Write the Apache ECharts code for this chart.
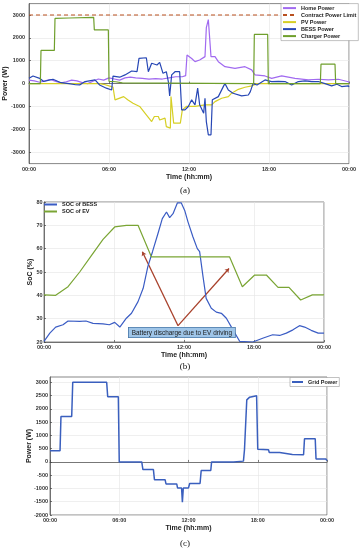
<!DOCTYPE html>
<html>
<head>
<meta charset="utf-8">
<script src="https://cdn.jsdelivr.net/npm/echarts@6/dist/echarts.min.js"></script>
<style>html,body{margin:0;padding:0;background:#fff}#c{width:359px;height:550px}</style>
</head>
<body>
<div id="c"></div>
<script>
// ---------- DATA ----------
const timeTicks = [0, 6, 12, 18, 24];
const powerTicksA = [-3000, -2000, -1000, 0, 1000, 2000, 3000];
const socTicks = [20, 30, 40, 50, 60, 70, 80];
const powerTicksC = [-2000, -1500, -1000, -500, 0, 500, 1000, 1500, 2000, 2500, 3000];

const homePower = [[0,150],[0.4,120],[0.8,60],[1.2,120],[1.6,180],[2,100],[2.4,30],[2.8,80],[3.2,150],[3.6,120],[4,40],[4.4,0],[4.8,100],[5.2,200],[5.6,150],[6,250],[6.4,200],[6.8,150],[7.2,250],[7.6,280],[8,250],[8.5,230],[9,200],[9.5,220],[10,200],[10.5,250],[11,300],[11.5,300],[11.75,350],[11.85,1250],[12.2,1100],[12.45,960],[12.8,1030],[13.2,1180],[13.3,2450],[13.45,2800],[13.6,2800],[13.65,1180],[13.95,1180],[14.2,960],[14.7,740],[15.45,670],[16.2,740],[16.7,600],[16.95,380],[17.7,335],[18.2,230],[18.95,335],[19.95,230],[20.95,160],[21.7,190],[22.45,160],[23.2,190],[23.95,80],[24,50]];
const contractLimit = [[0,3000],[24,3000]];
const pvPower = [[0,0],[5.3,0],[5.6,-30],[6,-100],[6.3,-150],[6.45,-710],[7.1,-570],[7.4,-710],[7.8,-860],[8.3,-1000],[8.8,-1370],[9.2,-1660],[9.4,-1440],[9.7,-1440],[9.8,-1590],[10.2,-1510],[10.3,-1880],[10.6,-1950],[10.65,-570],[10.85,-1730],[11.35,-1730],[11.5,-1150],[11.8,-1000],[12.45,-1000],[13.2,-930],[13.7,-930],[13.95,-790],[14.45,-640],[14.95,-570],[15.2,-420],[15.7,-250],[16.2,-160],[16.7,-100],[17.1,0],[24,0]];
const bessPower = [[0,230],[0.3,330],[0.8,230],[1.1,90],[1.5,150],[1.8,190],[2.4,40],[3,0],[3.5,-50],[3.8,-60],[4.2,90],[4.95,160],[5.3,-60],[5.8,-200],[6.2,-280],[6.3,330],[6.8,280],[7.2,380],[7.7,550],[8.1,520],[8.25,1100],[8.8,1130],[8.95,520],[9.2,890],[9.6,815],[9.8,930],[10.05,450],[10.3,520],[10.45,90],[10.55,-540],[10.7,380],[10.95,520],[11.3,520],[11.45,-1150],[11.7,-1150],[11.95,-1000],[12.2,-710],[12.45,-930],[12.65,-200],[12.8,-930],[13.1,-1300],[13.2,-640],[13.3,-1660],[13.45,-2240],[13.65,-2240],[13.75,-710],[14.2,-570],[14.6,-100],[14.7,0],[14.95,-280],[15.3,-420],[15.95,-540],[16.45,-500],[16.6,-350],[16.8,0],[17.1,-60],[17.7,160],[18.2,90],[18.7,100],[19.2,90],[19.7,-60],[20.2,90],[20.7,120],[21.2,90],[21.7,90],[22.2,0],[22.7,-100],[23.1,-30],[23.45,-130],[23.95,-100],[24,-150]];
const chargerPower = [[0,0],[0.85,0],[0.9,1450],[1.9,1450],[1.95,2850],[3,2870],[4.85,2900],[4.9,2350],[5.95,2350],[6.0,100],[6.5,80],[7,30],[16.85,0],[16.9,2150],[17.9,2150],[17.95,0],[21.85,0],[21.9,850],[22.95,850],[23.0,0],[24,0]];

const socBess = [[0,20.3],[0.5,23.8],[1,26.4],[1.63,27.4],[2.06,29],[3.06,28.8],[3.6,29],[4.2,28],[5.06,27.8],[5.6,27.4],[6.06,28.4],[6.5,26.4],[7.06,30.2],[7.5,32.3],[8.06,37.3],[8.5,43],[8.9,52.3],[9.3,58.7],[9.77,66.5],[10.14,72.9],[10.5,75.7],[10.77,73.3],[11.06,75],[11.43,79.6],[11.77,79.6],[12.06,76.4],[12.34,71.5],[12.77,65],[13.14,60],[13.34,58.7],[13.63,48],[13.9,38.7],[14.34,34.5],[14.77,32.8],[15.2,32.3],[15.63,30.2],[16.2,25.2],[16.77,20.3],[17.9,20],[18.8,21.7],[19.6,23.1],[20.2,22.8],[20.77,23.8],[21.34,25.2],[21.9,27],[22.34,26.4],[22.9,25],[23.5,23.8],[24,23.8]];
const socEv = [[0,40.2],[1,40],[2.06,43.7],[3.06,50],[4.06,57],[5.06,64],[6.06,69.3],[7.06,70],[8.06,70],[9.2,56.5],[15.9,56.5],[17,43.7],[18.06,48.7],[19.06,48.7],[20.06,43.4],[21,43.4],[22,38],[23,40.2],[24,40.2]];
const arrowStart = [11.49, 27];
const arrowEnds = [[8.43, 58.7], [15.86, 51.5]];
const annotationText = 'Battery discharge due to EV driving';

const gridPower = [[0,420],[0.87,420],[0.95,1710],[1.88,1710],[1.97,3000],[4.91,3000],[5.0,2460],[5.92,2460],[6.0,0],[7.95,0],[8.05,-290],[8.96,-290],[9.05,-670],[9.97,-670],[10.05,-830],[10.98,-830],[11.05,-980],[11.4,-980],[11.47,-1520],[11.55,-980],[12.0,-980],[12.1,-815],[13.0,-815],[13.1,-325],[13.93,-325],[14.0,0],[15.9,0],[16.76,30],[16.85,460],[17.05,2340],[17.3,2440],[17.9,2490],[18.0,480],[18.93,460],[19.0,355],[19.9,355],[20.0,290],[21.0,280],[21.97,270],[22.05,870],[22.98,870],[23.05,110],[23.9,110],[24,50]];

// ---------- CHART ----------
const FONT = 'Liberation Sans';
const chart = echarts.init(document.getElementById('c'), null, {renderer: 'canvas'});
const fmtTime = v => String(Math.round(v) % 24).padStart(2, '0') + ':00';

function xAxisDef(gi, gap, margin) {
  return {
    type: 'value', gridIndex: gi, min: 0, max: 24, interval: 6,
    name: 'Time (hh:mm)', nameLocation: 'middle', nameGap: gap,
    nameTextStyle: {fontFamily: FONT, fontSize: 7, fontWeight: 'bold', color: '#222'},
    axisLine: {show: true, lineStyle: {color: '#444', width: 0.7}},
    axisTick: {show: true, inside: true, length: 2, customValues: timeTicks, lineStyle: {color: '#444', width: 0.7}},
    axisLabel: {customValues: timeTicks, formatter: fmtTime, fontFamily: FONT, fontSize: 5.5, fontWeight: 'bold', color: '#333', margin: margin},
    splitLine: {show: true, lineStyle: {color: '#e4e4e4', width: 0.6}}
  };
}
function yAxisDef(gi, min, max, ticks, name, gap, margin) {
  return {
    type: 'value', gridIndex: gi, min: min, max: max,
    name: name, nameLocation: 'middle', nameGap: gap, nameMoveOverlap: false,
    nameTextStyle: {fontFamily: FONT, fontSize: 7, fontWeight: 'bold', color: '#222'},
    axisLine: {show: true, lineStyle: {color: '#444', width: 0.7}},
    axisTick: {show: true, inside: true, length: 2, customValues: ticks, lineStyle: {color: '#444', width: 0.7}},
    axisLabel: {customValues: ticks, formatter: v => String(v), fontFamily: FONT, fontSize: 5.5, fontWeight: 'bold', color: '#333', margin: margin},
    splitLine: {show: true, lineStyle: {color: '#e4e4e4', width: 0.6}}
  };
}
const gridCommon = {show: true, borderColor: '#555', borderWidth: 0.7, backgroundColor: '#fff', containLabel: false, outerBoundsMode: 'none'};
const legendText = {fontFamily: FONT, fontSize: 5.5, fontWeight: 'bold', color: '#222', lineHeight: 6};
const legendItemStyle = {opacity: 0, borderWidth: 0};

function lineSeries(name, data, color, xi, extra) {
  return Object.assign({
    name: name, type: 'line', xAxisIndex: xi, yAxisIndex: xi, data: data,
    symbol: 'none', showSymbol: false, animation: false,
    lineStyle: {color: color, width: 1.2}, itemStyle: {color: color}
  }, extra || {});
}

const option = {
  animation: false,
  grid: [
    Object.assign({left: 29, top: 3.6, width: 320, height: 160}, gridCommon),
    Object.assign({left: 44, top: 202, width: 280, height: 140}, gridCommon),
    Object.assign({left: 50, top: 377, width: 277, height: 138}, gridCommon)
  ],
  xAxis: [xAxisDef(0, 10, 3), xAxisDef(1, 7.5, 2.5), xAxisDef(2, 8.5, 2.5)],
  yAxis: [
    yAxisDef(0, -3500, 3500, powerTicksA, 'Power (W)', 20, 4),
    yAxisDef(1, 20, 80, socTicks, 'SoC (%)', 10, 1.5),
    yAxisDef(2, -2000, 3200, powerTicksC, 'Power (W)', 17, 2)
  ],
  legend: [
    {data: ['Home Power', 'Contract Power Limit', 'PV Power', 'BESS Power', 'Charger Power'],
     orient: 'vertical', left: 281, top: 3.6, itemWidth: 13, itemHeight: 5, itemGap: 1,
     padding: [1.5, 2, 1.5, 1], borderColor: '#999', borderWidth: 0.6, backgroundColor: '#fff',
     itemStyle: legendItemStyle, textStyle: legendText},
    {data: ['SOC of BESS', 'SOC of EV'],
     orient: 'vertical', left: 42, top: 200, itemWidth: 13, itemHeight: 5, itemGap: 1,
     padding: [1.5, 2, 1.5, 1], itemStyle: legendItemStyle, textStyle: legendText},
    {data: ['Grid Power'],
     orient: 'vertical', left: 290, top: 377.5, itemWidth: 11, itemHeight: 5, itemGap: 1,
     padding: [1.5, 2, 1.5, 1], borderColor: '#999', borderWidth: 0.6, backgroundColor: '#fff',
     itemStyle: legendItemStyle, textStyle: legendText}
  ],
  title: [
    {text: '(a)', left: 180, top: 181, textAlign: 'center', textStyle: {fontFamily: 'Liberation Serif', fontSize: 9, fontWeight: 'normal', color: '#111'}},
    {text: '(b)', left: 180, top: 357, textAlign: 'center', textStyle: {fontFamily: 'Liberation Serif', fontSize: 9, fontWeight: 'normal', color: '#111'}},
    {text: '(c)', left: 180, top: 534, textAlign: 'center', textStyle: {fontFamily: 'Liberation Serif', fontSize: 9, fontWeight: 'normal', color: '#111'}}
  ],
  series: [
    lineSeries('Home Power', homePower, '#a16af0', 0),
    lineSeries('Contract Power Limit', contractLimit, '#b9501f', 0, {lineStyle: {color: '#b9501f', width: 1.1, type: [4, 3]}}),
    lineSeries('PV Power', pvPower, '#d6cf25', 0),
    lineSeries('BESS Power', bessPower, '#2747b5', 0),
    lineSeries('Charger Power', chargerPower, '#6f9f2c', 0),
    lineSeries('SOC of BESS', socBess, '#3a5cc4', 1),
    lineSeries('SOC of EV', socEv, '#7aa534', 1),
    {
      type: 'lines', coordinateSystem: 'cartesian2d', xAxisIndex: 1, yAxisIndex: 1,
      polyline: false, animation: false, silent: true,
      symbol: ['none', 'arrow'], symbolSize: 4,
      lineStyle: {color: '#a8412b', width: 1.3, opacity: 1, curveness: 0},
      data: arrowEnds.map(e => ({coords: [arrowStart, e]}))
    },
    lineSeries('Grid Power', gridPower, '#3a5fbe', 2, {lineStyle: {color: '#3a5fbe', width: 1.5}})
  ],
  graphic: [
    {type: 'text', left: 128, top: 327, z: 100,
     style: {text: annotationText, fontFamily: FONT, fontSize: 6.4, fill: '#1a1a1a',
             backgroundColor: '#9fc5e8', borderColor: '#4a78a8', borderWidth: 0.8,
             padding: [2, 3, 1.5, 3]}}
  ]
};
chart.setOption(option);
</script>
</body>
</html>
